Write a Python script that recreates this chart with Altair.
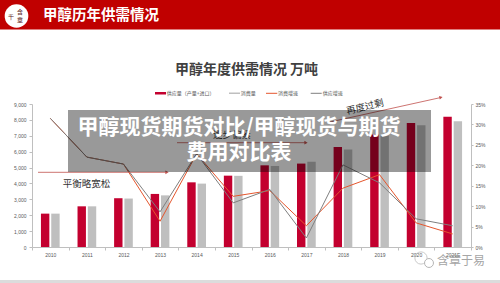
import altair as alt
import pandas as pd

years = ["2010", "2011", "2012", "2013", "2014", "2015", "2016", "2017", "2018", "2019", "2020", "2021E"]
supply = [2100, 2560, 3070, 3340, 4070, 4490, 5140, 5250, 6300, 7080, 7810, 8190]
consumption = [2100, 2560, 3050, 3250, 3990, 4480, 5100, 5370, 6130, 7010, 7660, 7910]
supply_growth = [0.315, 0.220, 0.203, 0.086, 0.228, 0.108, 0.141, 0.022, 0.201, 0.157, 0.069, 0.052]
cons_growth = [0.315, 0.220, 0.203, 0.063, 0.228, 0.124, 0.138, 0.052, 0.144, 0.177, 0.059, 0.032]

left_ticks = list(range(0, 9001, 1000))
right_ticks = [i / 100 for i in range(0, 36, 5)]

df = pd.DataFrame({
    "year": years,
    "supply": supply,
    "consumption": consumption,
    "supply_growth": supply_growth,
    "cons_growth": cons_growth,
})
one = pd.DataFrame({"k": [0]})

NUM_FONT = "Liberation Sans"
CJK = "Noto Sans CJK SC"
AX_GRAY = "#bfbfbf"
LAB = "#595959"

x_enc = alt.X(
    "year:N", sort=years,
    scale=alt.Scale(paddingInner=0, paddingOuter=0),
    axis=alt.Axis(title=None, labelAngle=0, labelFontSize=5, labelColor=LAB, labelFont=NUM_FONT,
                  tickBand="extent", tickSize=3, tickColor=AX_GRAY, domainColor=AX_GRAY,
                  labelPadding=2, grid=False),
)

bars = alt.Chart(df).transform_fold(["supply", "consumption"], as_=["series", "value"]).mark_bar().encode(
    x=x_enc,
    xOffset=alt.XOffset("series:N", sort=["supply", "consumption"],
                        scale=alt.Scale(domain=["supply", "consumption"], paddingInner=0.184, paddingOuter=0.868)),
    y=alt.Y("value:Q", scale=alt.Scale(domain=[0, 9000], nice=False),
            axis=alt.Axis(title=None, values=left_ticks, labelExpr="format(datum.value, ',')",
                          labelFontSize=5, labelColor=LAB,
                          labelFont=NUM_FONT, tickSize=3, tickColor=AX_GRAY, domainColor=AX_GRAY,
                          orient="left", grid=False, labelPadding=3)),
    color=alt.Color("series:N", scale=alt.Scale(domain=["supply", "consumption"], range=["#c3002f", "#bfbfbf"]),
                    legend=None),
)

lines = alt.Chart(df).transform_fold(["cons_growth", "supply_growth"], as_=["series", "value"]).mark_line(
    strokeWidth=1).encode(
    x=x_enc,
    y=alt.Y("value:Q", scale=alt.Scale(domain=[0, 0.35], nice=False),
            axis=alt.Axis(title=None, values=right_ticks, labelExpr="format(datum.value, '.0%')",
                          labelFontSize=5, labelColor=LAB,
                          labelFont=NUM_FONT, tickSize=2, tickColor=AX_GRAY, domainColor=AX_GRAY,
                          orient="right", grid=False, labelPadding=2)),
    color=alt.Color("series:N", scale=alt.Scale(domain=["cons_growth", "supply_growth"],
                                                range=["#e5562d", "#7f7f7f"]), legend=None),
)


def rect(x, x2, y, y2, color, opacity=1.0):
    return alt.Chart(one).mark_rect(color=color, opacity=opacity).encode(
        x=alt.value(x), x2=alt.value(x2), y=alt.value(y), y2=alt.value(y2))


def rule(x, x2, y, y2, color, w=1.0):
    return alt.Chart(one).mark_rule(color=color, strokeWidth=w).encode(
        x=alt.value(x), x2=alt.value(x2), y=alt.value(y), y2=alt.value(y2))


def text(t, x, y, size, color, align="center", weight="normal", font=CJK, angle=0):
    kw = dict(text=t, fontSize=size, color=color, align=align, baseline="middle", fontWeight=weight, font=font)
    if angle:
        kw["angle"] = angle
    return alt.Chart(one).mark_text(**kw).encode(x=alt.value(x), y=alt.value(y))


def arrowhead(x, y, angle=0, color="#c0504d"):
    kw = dict(shape="triangle-right", filled=True, color=color, size=14, opacity=1)
    if angle:
        kw["angle"] = angle
    return alt.Chart(one).mark_point(**kw).encode(x=alt.value(x), y=alt.value(y))


ARROW = "#c0504d"
deco = [
    # annotations (under overlay)
    rule(6, 134, 68.3, 68.3, ARROW, 0.8), arrowhead(135, 68.3),
    text("平衡略宽松", 54.5, 80, 9.5, "#333333"),
    rule(145, 273, 38.7, 38.7, ARROW, 0.8), arrowhead(274, 38.7),
    text("逐步偏紧", 200, 31, 9.5, "#333333"),
    rule(298, 408, 18, -6.3, ARROW, 0.8), arrowhead(409, -6.6, 347.5),
    text("再度过剩", 333, 3, 9.5, "#333333", angle=346.5),
    # overlay band
    rect(36, 399, 6, 68, "#000000", 0.4),
    text("甲醇现货期货对比/甲醇现货与期货", 207, 24, 21, "#ffffff", weight="bold"),
    text("费用对比表", 207, 49, 21, "#ffffff", weight="bold"),
    # header
    rect(-32, 468, -104, -74.6, "#c00000"),
    alt.Chart(one).mark_point(shape="circle", filled=True, color="#ffffff", size=560, opacity=1).encode(
        x=alt.value(-15.5), y=alt.value(-88)),
    text("千", -21, -87, 6, "#5a1a1a"),
    text("含", -12, -92, 6, "#5a1a1a"),
    text("章", -12, -84, 6, "#5a1a1a"),
    text("甲醇历年供需情况", 11, -88, 14.5, "#ffffff", align="left", weight="bold"),
    # chart title
    text("甲醇年度供需情况 万吨", 214.5, -34, 14, "#404040", weight="bold"),
    # legend
    rect(123, 134, -12, -9.5, "#c3002f"),
    text("供应量（产量+进口）", 134.8, -10.7, 5, LAB, align="left"),
    rect(197, 208, -11.5, -10, "#bfbfbf"),
    text("消费量", 208.8, -10.7, 5, LAB, align="left"),
    rule(234, 245.3, -10.7, -10.7, "#e5562d", 1),
    text("消费增速", 246, -10.7, 5, LAB, align="left"),
    rule(278.7, 289.7, -10.7, -10.7, "#7f7f7f", 1),
    text("供应增速", 290.7, -10.7, 5, LAB, align="left"),
    # watermark
    alt.Chart(one).mark_point(shape="circle", filled=False, color="#b5b5b5", size=150, strokeWidth=1).encode(
        x=alt.value(389), y=alt.value(154)),
    alt.Chart(one).mark_point(shape="circle", filled=True, fill="#ffffff", stroke="#b5b5b5", size=80,
                              strokeWidth=1, opacity=1).encode(x=alt.value(397), y=alt.value(159)),
    text("含章于易", 405, 157, 12, "#a6a6a6", align="left"),
    # bottom strip
    rect(-32, 468, 176, 179, "#dcdcdc"),
]

chart = alt.layer(bars, lines, *deco).resolve_scale(y="independent", color="independent").properties(
    width=439, height=143,
    padding={"left": 32, "top": 104, "right": 29, "bottom": 36},
    autosize=alt.AutoSizeParams(type="none"),
    background="#ffffff",
).configure_view(strokeWidth=0)

chart.save("out.html", embed_options={"renderer": "svg", "actions": False})
